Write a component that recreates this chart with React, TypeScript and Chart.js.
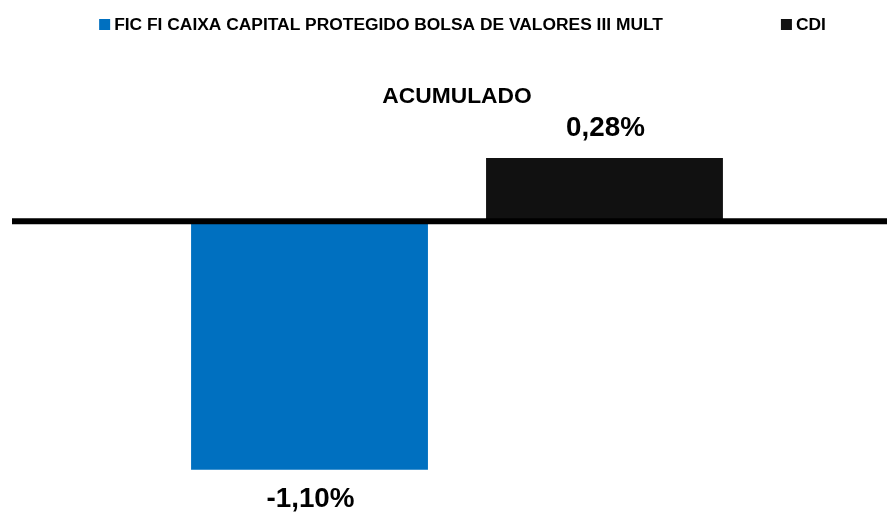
import React, { useEffect, useRef } from "react";
import { Chart, registerables } from "chart.js";

Chart.register(...registerables);

const categories = ["ACUMULADO"];
const seriesNames = ["FIC FI CAIXA CAPITAL PROTEGIDO BOLSA DE VALORES III MULT", "CDI"];
const fundValues = [-1.1];
const cdiValues = [0.28];
const seriesColors = ["#0070C0", "#111111"];

const FONT = "'Liberation Sans', Arial, sans-serif";

const fmt = (v: number) => v.toFixed(2).replace(".", ",") + "%";

const legendPlugin = {
  id: "customLegend",
  afterDraw(chart: any) {
    const ctx = chart.ctx;
    ctx.save();
    ctx.font = `bold 17.4px ${FONT}`;
    ctx.textBaseline = "middle";
    ctx.textAlign = "left";
    const box = 11;
    const gapBoxText = 4;
    const gapItems = 118;
    const items = chart.data.datasets.map((d: any) => ({
      text: d.label,
      color: d.backgroundColor,
      w: box + gapBoxText + ctx.measureText(d.label).width,
    }));
    const total = items.reduce((s: number, it: any) => s + it.w, 0) + gapItems * (items.length - 1);
    let x = 462.5 - total / 2;
    const cy = 24.5;
    items.forEach((it: any) => {
      ctx.fillStyle = it.color;
      ctx.fillRect(x, cy - box / 2, box, box);
      ctx.fillStyle = "#000000";
      ctx.fillText(it.text, x + box + gapBoxText, cy + 0.5);
      x += it.w + gapItems;
    });
    ctx.restore();
  },
};

const zeroAndLabelsPlugin = {
  id: "zeroAndLabels",
  afterDatasetsDraw(chart: any) {
    const ctx = chart.ctx;
    const y0 = chart.scales.y.getPixelForValue(0);
    ctx.save();
    ctx.strokeStyle = "#000000";
    ctx.lineWidth = 6;
    ctx.beginPath();
    ctx.moveTo(12, y0);
    ctx.lineTo(chart.width, y0);
    ctx.stroke();

    ctx.font = `bold 27.8px ${FONT}`;
    ctx.fillStyle = "#000000";
    ctx.textAlign = "center";
    ctx.textBaseline = "alphabetic";
    chart.data.datasets.forEach((ds: any, di: number) => {
      const meta = chart.getDatasetMeta(di);
      meta.data.forEach((bar: any, i: number) => {
        const v = ds.data[i];
        const y = v >= 0 ? bar.y - 22 : bar.y + 37;
        ctx.fillText(fmt(v), bar.x + 1, y);
      });
    });
    ctx.restore();
  },
};

export default function App() {
  const ref = useRef<HTMLCanvasElement | null>(null);

  useEffect(() => {
    if (!ref.current) return;
    const chart = new Chart(ref.current, {
      type: "bar",
      data: {
        labels: categories,
        datasets: [
          { label: seriesNames[0], data: fundValues, backgroundColor: seriesColors[0] },
          { label: seriesNames[1], data: cdiValues, backgroundColor: seriesColors[1] },
        ],
      },
      options: {
        animation: false,
        responsive: false,
        maintainAspectRatio: false,
        layout: { padding: { top: 50, left: 27, right: 0, bottom: 0 } },
        datasets: {
          bar: { categoryPercentage: 0.686, barPercentage: 0.803 },
        },
        plugins: {
          legend: { display: false },
          tooltip: { enabled: false },
        },
        scales: {
          x: {
            position: "top",
            grid: { display: false, drawTicks: false },
            border: { display: false },
            ticks: {
              color: "#000000",
              padding: 5,
              font: { family: FONT, size: 22.8, weight: "bold" },
            },
            afterFit: (scale: any) => {
              scale.height = 65;
            },
          },
          y: {
            display: false,
            min: -1.3,
            max: 0.47,
          },
        },
      },
      plugins: [zeroAndLabelsPlugin, legendPlugin],
    });
    return () => chart.destroy();
  }, []);

  return (
    <div style={{ position: "absolute", left: 0, top: 0, width: 887, height: 515, background: "#ffffff" }}>
      <canvas ref={ref} width={887} height={515} style={{ display: "block" }} />
    </div>
  );
}
